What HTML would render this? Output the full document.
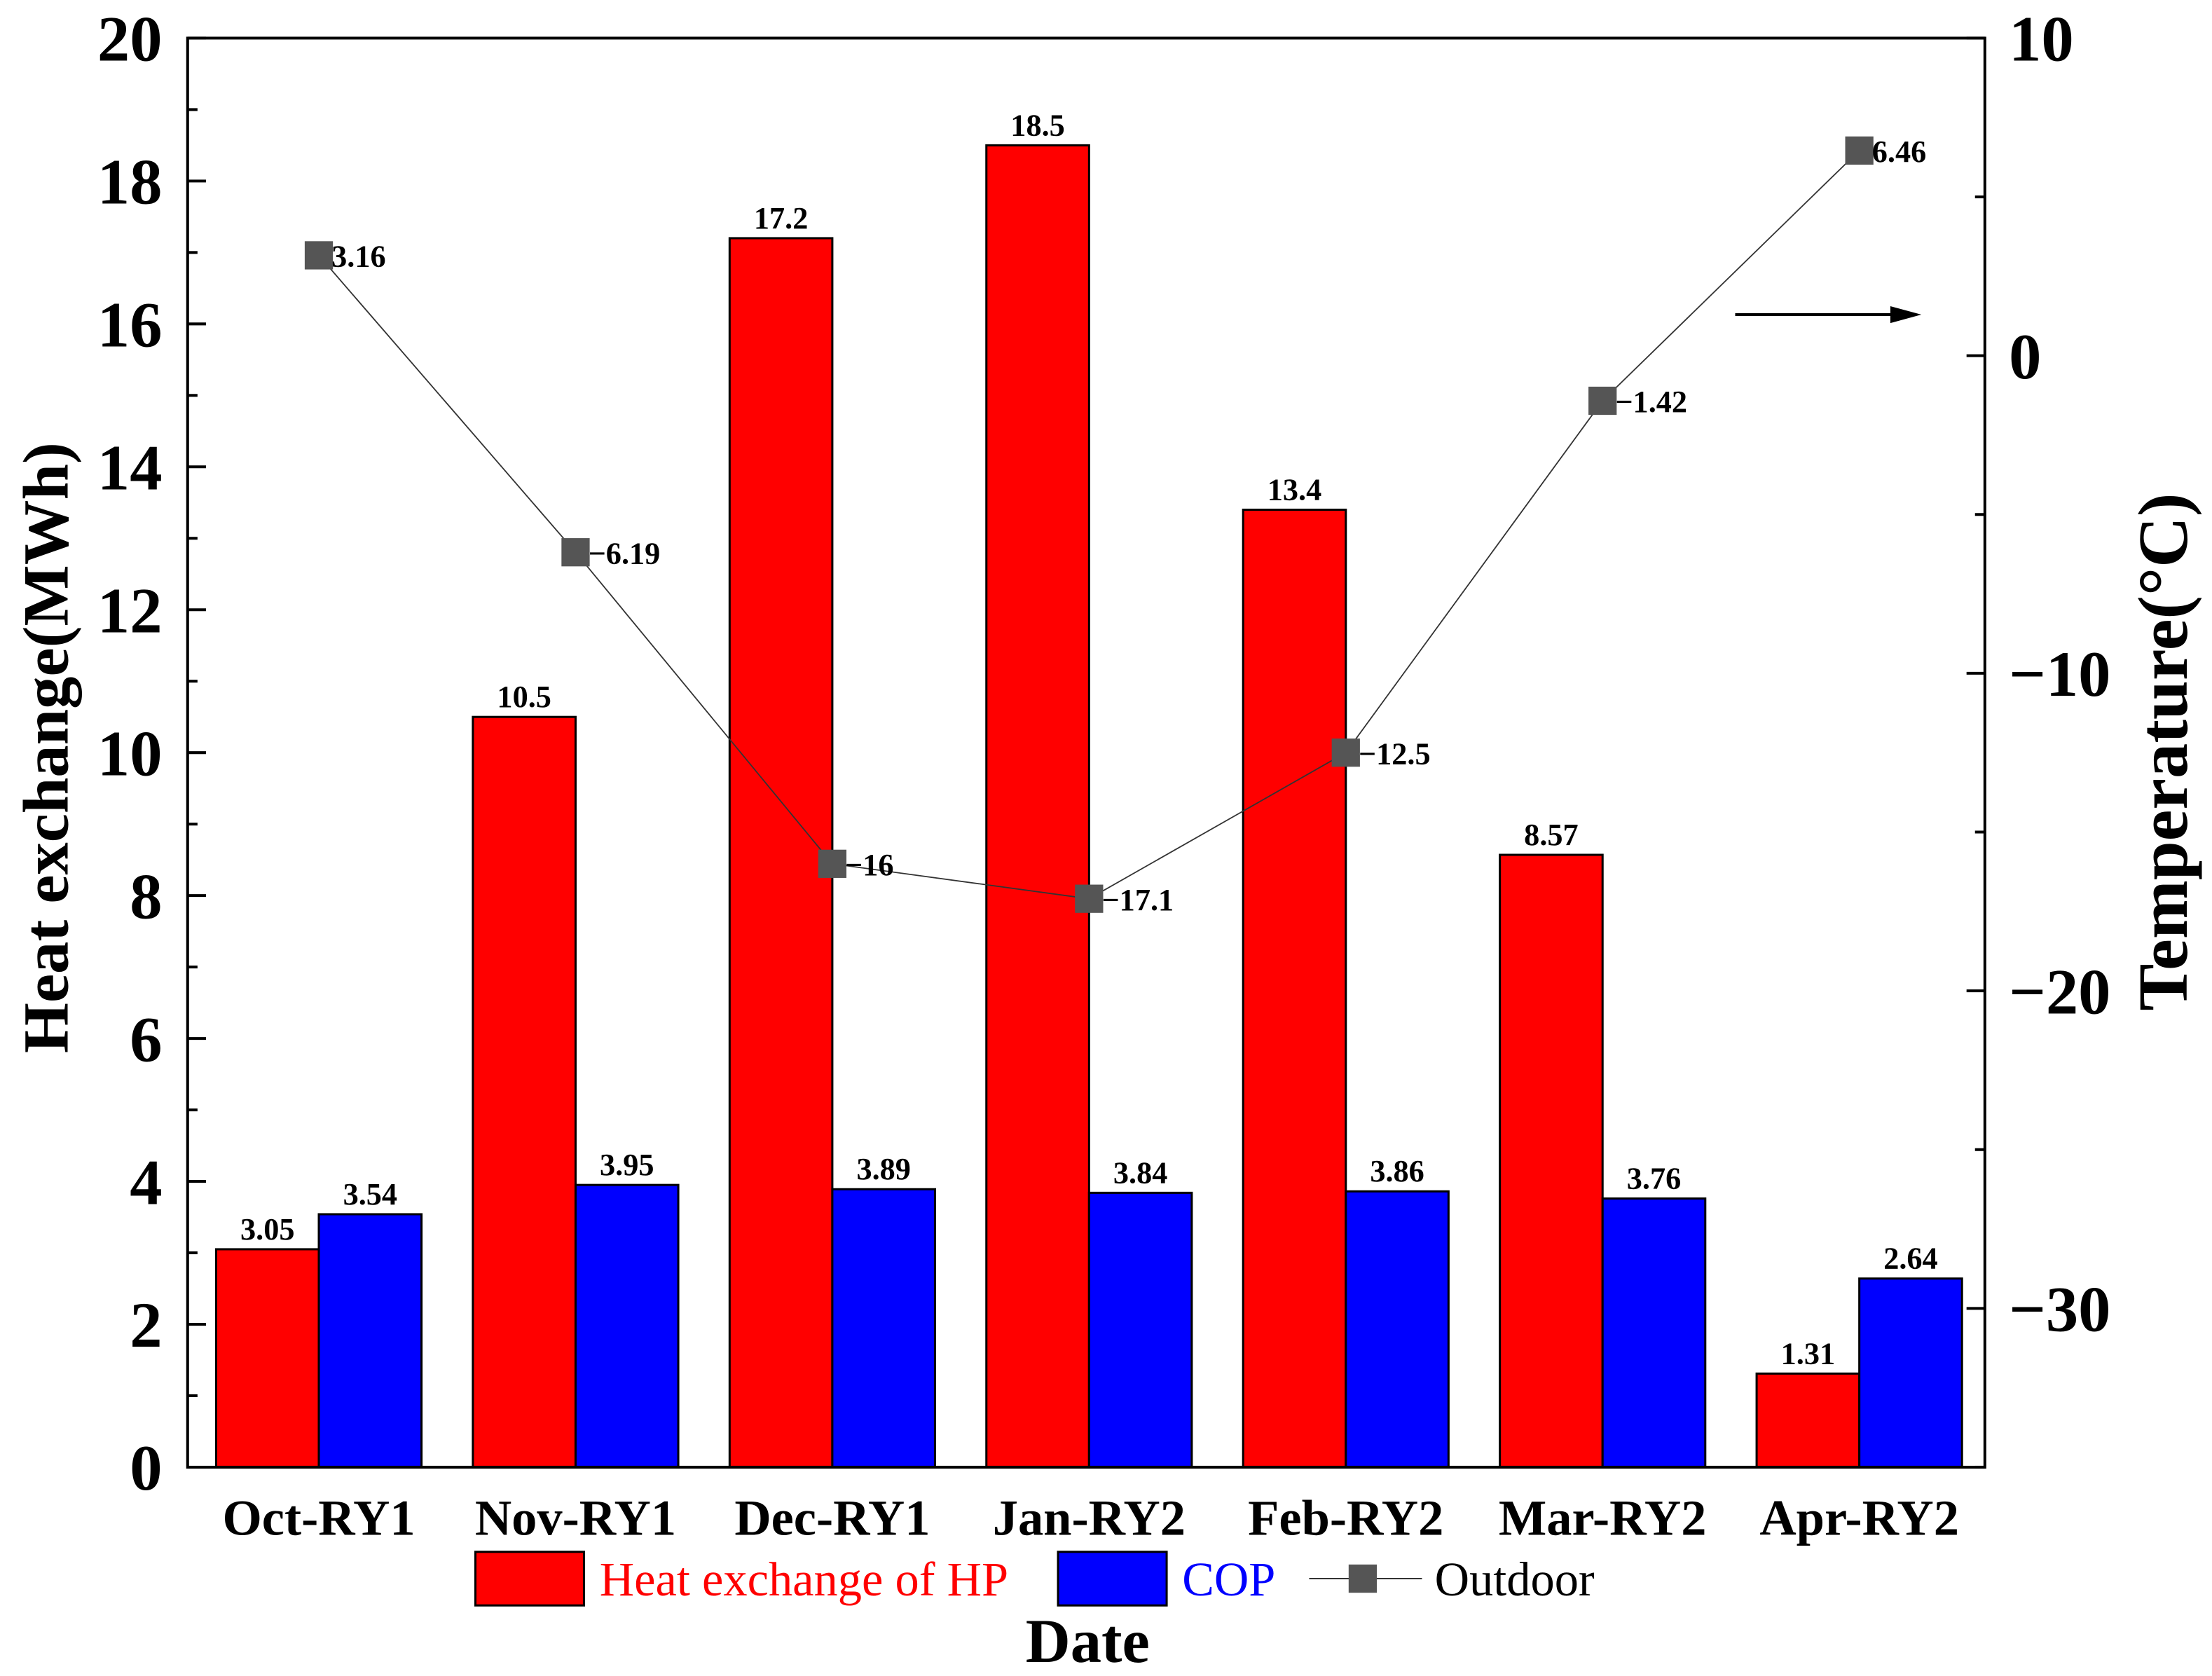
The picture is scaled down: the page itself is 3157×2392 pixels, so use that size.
<!DOCTYPE html>
<html><head><meta charset="utf-8"><style>html,body{margin:0;padding:0;background:#fff}svg{display:block}</style></head>
<body>
<svg id="chart" xmlns="http://www.w3.org/2000/svg" width="3157" height="2392" viewBox="0 0 1568 1188" font-family="'Liberation Serif', serif"></svg>
<script>
const categories=["Oct-RY1","Nov-RY1","Dec-RY1","Jan-RY2","Feb-RY2","Mar-RY2","Apr-RY2"];
const heatValues=[3.05,10.5,17.2,18.5,13.4,8.57,1.31];
const heatLabels=["3.05","10.5","17.2","18.5","13.4","8.57","1.31"];
const copValues=[3.54,3.95,3.89,3.84,3.86,3.76,2.64];
const copLabels=["3.54","3.95","3.89","3.84","3.86","3.76","2.64"];
const tempValues=[3.16,-6.19,-16,-17.1,-12.5,-1.42,6.46];
const tempLabels=["3.16","\u22126.19","\u221216","\u221217.1","\u221212.5","\u22121.42","6.46"];
const leftTicks=[0,2,4,6,8,10,12,14,16,18,20];
const rightTicks=[10,0,-10,-20,-30];

const svg=document.getElementById('chart');
const NS="http://www.w3.org/2000/svg";
const L=133,R=1407,T=27,B=1040;
const yL=v=>B-(v/20)*(B-T);
const yR=v=>T+((10-v)/45)*(B-T);
const gw=(R-L)/categories.length;
const xC=i=>L+2+gw*(i+0.5);
const bw=gw*0.4;
function mk(tag,attrs,parent){const e=document.createElementNS(NS,tag);for(const k in attrs)e.setAttribute(k,attrs[k]);(parent||svg).appendChild(e);return e;}
function txt(s,attrs,parent){const e=mk('text',attrs,parent);e.textContent=s;return e;}

categories.forEach((c,i)=>{
  const r=mk('rect',{x:xC(i)-bw,y:yL(heatValues[i]),width:bw,height:B-yL(heatValues[i]),fill:'#ff0000',stroke:'#000','stroke-width':1.5});
  
  
  const b=mk('rect',{x:xC(i),y:yL(copValues[i]),width:bw,height:B-yL(copValues[i]),fill:'#0000ff',stroke:'#000','stroke-width':1.5});
  
  
  const t1=txt(heatLabels[i],{x:xC(i)-bw/2,y:yL(heatValues[i])-7,'text-anchor':'middle','font-size':22,'font-weight':'bold'});
  
  
  const t2=txt(copLabels[i],{x:xC(i)+bw/2,y:yL(copValues[i])-7,'text-anchor':'middle','font-size':22,'font-weight':'bold'});
  
  
  const cl=txt(c,{x:xC(i),y:1088,'text-anchor':'middle','font-size':36,'font-weight':'bold'});
  
  
});

const pts=tempValues.map((v,i)=>xC(i)+','+yR(v)).join(' ');
const pl=mk('polyline',{points:pts,fill:'none',stroke:'#333','stroke-width':0.9});


tempValues.forEach((v,i)=>{
  const m=mk('rect',{x:xC(i)-10,y:yR(v)-10,width:20,height:20,fill:'#555'});
  
  
  const t=txt(tempLabels[i],{x:xC(i)+9,y:yR(v)+8,'font-size':22,'font-weight':'bold'});
  
  
});

const fr=mk('rect',{x:L,y:T,width:R-L,height:B-T,fill:'none',stroke:'#000','stroke-width':2});



for(let v=0;v<=20;v++){
  const major=v%2===0;
  mk('line',{x1:L,x2:L+(major?13:7),y1:yL(v),y2:yL(v),stroke:'#000','stroke-width':2});
}
leftTicks.forEach(v=>{
  const t=txt(String(v),{x:115,y:yL(v)+16,'text-anchor':'end','font-size':46,'font-weight':'bold'});
  
  
});
for(let v=-35;v<=10;v+=5){
  const major=v%10===0;
  mk('line',{x1:R,x2:R-(major?13:7),y1:yR(v),y2:yR(v),stroke:'#000','stroke-width':2});
}
rightTicks.forEach(v=>{
  const t=txt((v<0?'\u2212':'')+Math.abs(v),{x:1424,y:yR(v)+16,'font-size':46,'font-weight':'bold'});
  
  
});

const yl=txt('Heat exchange(MWh)',{x:0,y:0,'text-anchor':'middle','font-size':46,'font-weight':'bold',transform:'translate(48,530) rotate(-90)'});


const yr=txt('Temperature(°C)',{x:0,y:0,'text-anchor':'middle','font-size':50,'font-weight':'bold',transform:'translate(1550,533) rotate(-90)'});


const xl=txt('Date',{x:771,y:1178,'text-anchor':'middle','font-size':44,'font-weight':'bold'});



const ar=mk('g',{});


mk('line',{x1:1230,x2:1345,y1:223,y2:223,stroke:'#000','stroke-width':2},ar);
mk('polygon',{points:'1340,217 1362,223 1340,229',fill:'#000'},ar);

const lg=mk('g',{});


mk('rect',{x:337,y:1100,width:77,height:38,fill:'#ff0000',stroke:'#000','stroke-width':1.5},lg);
txt('Heat exchange of HP',{x:425,y:1131,'font-size':34,fill:'#ff0000'},lg);
mk('rect',{x:750,y:1100,width:77,height:38,fill:'#0000ff',stroke:'#000','stroke-width':1.5},lg);
txt('COP',{x:838,y:1131,'font-size':34,fill:'#0000ff'},lg);
mk('line',{x1:928,x2:1008,y1:1119,y2:1119,stroke:'#333','stroke-width':1},lg);
mk('rect',{x:956,y:1109,width:20,height:20,fill:'#555'},lg);
txt('Outdoor',{x:1017,y:1131,'font-size':34,fill:'#000'},lg);
</script>
</body></html>
